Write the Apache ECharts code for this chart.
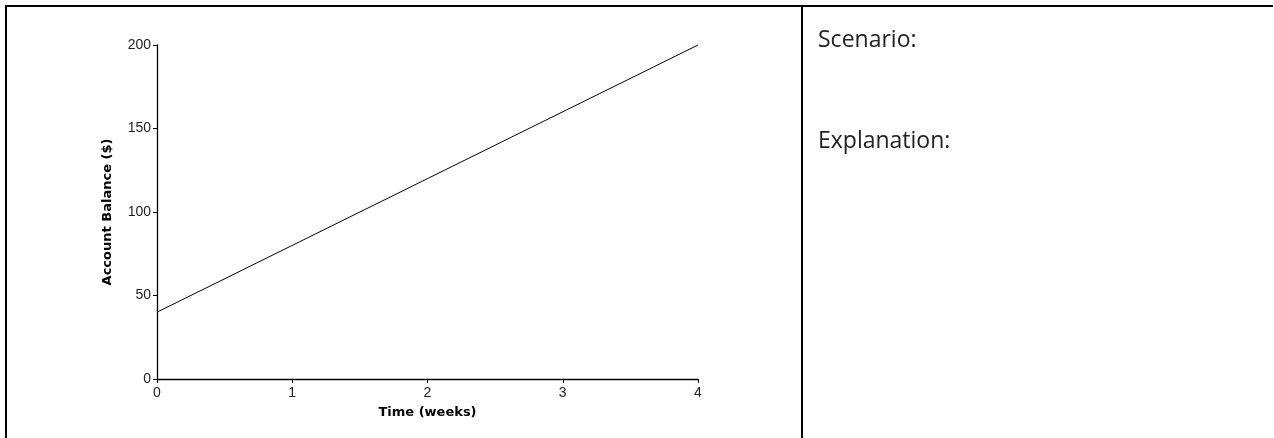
<!DOCTYPE html>
<html>
<head>
<meta charset="utf-8">
<script src="https://cdn.jsdelivr.net/npm/echarts@6/dist/echarts.min.js"></script>
<style>
html,body{margin:0;padding:0;background:#fff;}
#c{width:1274px;height:438px;}
</style>
</head>
<body>
<div id="c"></div>
<script>
const weeks = [0, 4];
const balance = [40, 200];
const xTicks = [0, 1, 2, 3, 4];
const yTicks = [0, 50, 100, 150, 200];
const xTitle = 'Time (weeks)';
const yTitle = 'Account Balance ($)';
const panelTexts = ['Scenario:', 'Explanation:'];

const chart = echarts.init(document.getElementById('c'), null, {renderer: 'canvas'});
const tickFont = {fontFamily: 'Liberation Sans', fontSize: 14, color: '#222'};
const titleFont = {fontFamily: 'DejaVu Sans', fontSize: 13, fontWeight: 'bold', color: '#000'};

chart.setOption({
  animation: false,
  grid: {left: 157, top: 45, right: 576, bottom: 59, containLabel: false},
  xAxis: {
    type: 'value', min: xTicks[0], max: xTicks[xTicks.length - 1], interval: 1,
    name: xTitle, nameLocation: 'middle', nameGap: 27, nameTextStyle: titleFont,
    axisLine: {show: true, lineStyle: {color: '#000', width: 1.3}},
    axisTick: {show: true, length: 4, lineStyle: {color: '#000', width: 1}},
    axisLabel: Object.assign({margin: 7}, tickFont),
    splitLine: {show: false}
  },
  yAxis: {
    type: 'value', min: yTicks[0], max: yTicks[yTicks.length - 1], interval: 50,
    name: yTitle, nameLocation: 'middle', nameGap: 43, nameTextStyle: titleFont,
    axisLine: {show: true, lineStyle: {color: '#000', width: 1.3}},
    axisTick: {show: true, length: 4, lineStyle: {color: '#000', width: 1}},
    axisLabel: Object.assign({margin: 6}, tickFont),
    splitLine: {show: false}
  },
  series: [{
    type: 'line',
    data: weeks.map((w, i) => [w, balance[i]]),
    showSymbol: false,
    lineStyle: {color: '#000', width: 1},
    silent: true
  }],
  graphic: [
    {type: 'line', shape: {x1: 6, y1: 6, x2: 1273, y2: 6}, style: {stroke: '#000', lineWidth: 2}},
    {type: 'line', shape: {x1: 6, y1: 5, x2: 6, y2: 438}, style: {stroke: '#000', lineWidth: 2}},
    {type: 'line', shape: {x1: 802, y1: 5, x2: 802, y2: 438}, style: {stroke: '#000', lineWidth: 2}},
    {type: 'text', left: 818, top: 29, style: {text: panelTexts[0], fontFamily: 'Open Sans', fontSize: 23, fill: '#222'}},
    {type: 'text', left: 818, top: 130, style: {text: panelTexts[1], fontFamily: 'Open Sans', fontSize: 23, fill: '#222'}}
  ]
});
</script>
</body>
</html>
